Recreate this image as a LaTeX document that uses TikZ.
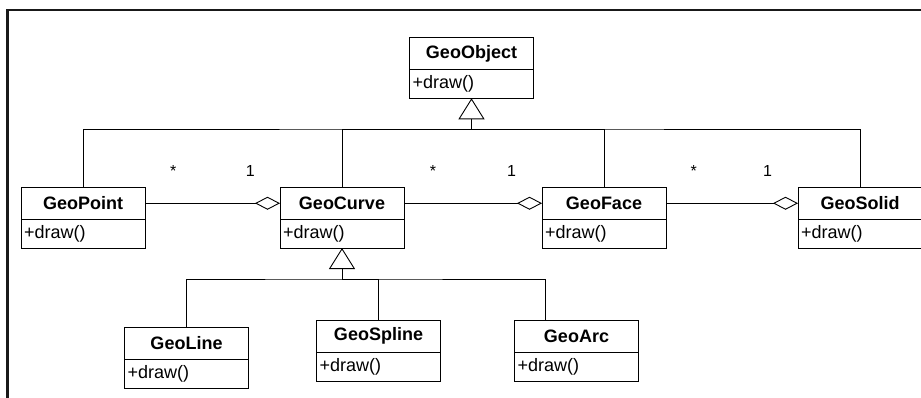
\documentclass[tikz,border=0pt]{standalone}
\usepackage{fontspec}
\setmainfont{Liberation Sans}
\usetikzlibrary{arrows.meta}
\usetikzlibrary{positioning}

\begin{document}
\begin{tikzpicture}[%
        x=1pt, y=-1pt,
        every node/.style={inner sep=0pt, outer sep=0pt},
        classname/.style={draw, minimum width=124pt, minimum height=32.5pt, font=\fontsize{18}{21}\selectfont\bfseries},
        classop/.style={draw, text width=118pt, inner xsep=3pt, minimum height=28.5pt, align=left, font=\fontsize{18}{21}\selectfont},
        mult/.style={anchor=base, yshift=27pt, font=\fontsize{16}{19}\selectfont},
        gen/.style={-{Triangle[open,length=21pt,width=26pt]}},
        aggr/.style={-{Diamond[open,length=25pt,width=13pt]}},
        line width=0.9pt
      ]
      \useasboundingbox (0,0) rectangle (921,397);
      \draw [line width=2.5pt, color=black!90] (7.5,400) |- (925,10);

      \node [classname] (obj) at (471.5,53.5) {GeoObject};
      \node [classop] (objop) [below=0pt of obj] {+draw()};

      \node [classname] (point) at (83,203.25) {GeoPoint};
      \node [classname] (curve) [right=135pt of point] {GeoCurve};
      \node [classname] (face) [right=138pt of curve] {GeoFace};
      \node [classname] (solid) [right=132pt of face] {GeoSolid};
      \node [classop] (pointop) [below=0pt of point] {+draw()};
      \node [classop] (curveop) [below=0pt of curve] {+draw()};
      \node [classop] (faceop) [below=0pt of face] {+draw()};
      \node [classop] (solidop) [below=0pt of solid] {+draw()};

      \node [classname] (line) at (186.5,343.25) {GeoLine};
      \node [classname] (spline) [right=68pt of line, yshift=7pt] {GeoSpline};
      \node [classname] (arc) [right=74pt of spline] {GeoArc};
      \node [classop] (lineop) [below=0pt of line] {+draw()};
      \node [classop] (splineop) [below=0pt of spline] {+draw()};
      \node [classop] (arcop) [below=0pt of arc] {+draw()};

      \coordinate (top) at (471.5,129);
      \coordinate (sub) at (342,279);
      \coordinate (arcin) at ([xshift=31pt]arc.north west);

      \draw [gen] (top) -- (objop.south);
      \draw (point.north) |- (top) -| (solid.north);
      \draw (curve.north) |- (top);
      \draw (face.north) |- (top);

      \draw [gen] (sub) -- (curveop.south);
      \draw (line.north) |- (sub) -| (arcin);
      \draw (spline.north) |- (sub);

      \path [draw] (point) edge[aggr] node[mult, pos=0.21] {*} node[mult, pos=0.78] {1} (curve)
      (curve) edge[aggr] node[mult, pos=0.21] {*} node[mult, pos=0.78] {1} (face)
      (face) edge[aggr] node[mult, pos=0.21] {*} node[mult, pos=0.77] {1} (solid);
    \end{tikzpicture}
\end{document}
